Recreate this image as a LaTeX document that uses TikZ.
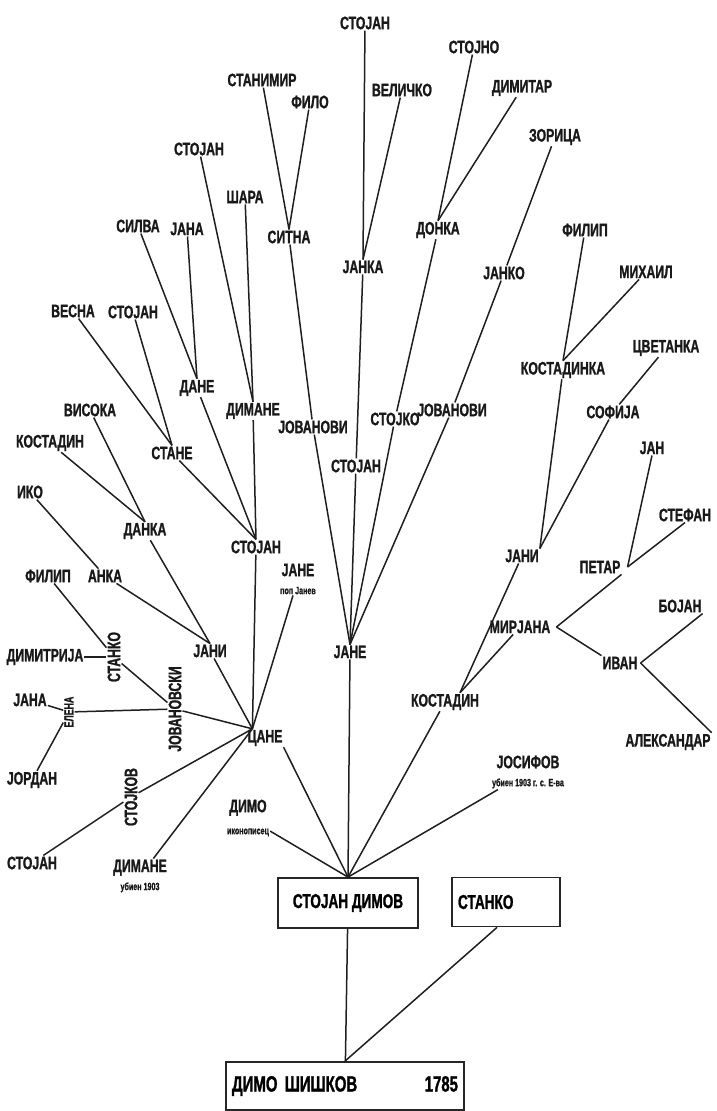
\documentclass[tikz,border=0pt]{standalone}
\usepackage{fontspec}
\newfontfamily\cf[FakeStretch=0.68,FakeBold=1.2]{Liberation Sans}
\newcommand{\subf}{\cf\bfseries\fontsize{10.5}{11}\selectfont}
\tikzset{
  lbl/.style={font=\cf\bfseries\fontsize{18}{18}\selectfont, inner sep=1pt, text=black!90},
  lblsm/.style={font=\cf\bfseries\fontsize{13}{13}\selectfont, inner sep=1pt, text=black!90},
  ln/.style={line width=1.5pt, black!88},
  box/.style={draw=black!85, line width=1.8pt, font=\cf\bfseries\fontsize{20}{20}\selectfont, inner sep=6pt}
}
\begin{document}
\begin{tikzpicture}[x=1pt,y=-1pt]
\fill[white] (0,0) rectangle (716,1111);
\useasboundingbox (0,0) rectangle (716,1111);

% ---- top centre
\node[lbl] (t1) at (365,23) {СТОЈАН};
\node[lbl] (t2) at (402,90) {ВЕЛИЧКО};
\node[lbl] (t3) at (474,47) {СТОЈНО};
\node[lbl] (t4) at (522,88) {ДИМИТАР};
\node[lbl] (t5) at (555,137) {ЗОРИЦА};
\node[lbl] (t6) at (262,80) {СТАНИМИР};
\node[lbl] (t7) at (310,102) {ФИЛО};
\node[lbl] (janka) at (363,267) {ЈАНКА};
\node[lbl] (donka) at (438,230) {ДОНКА};
\node[lbl] (janko) at (504,273) {ЈАНКО};
\node[lbl] (sitna) at (289,237) {СИТНА};

% ---- upper left
\node[lbl] (l1) at (199,149) {СТОЈАН};
\node[lbl] (l2) at (245,197) {ШАРА};
\node[lbl] (l3) at (138,226) {СИЛВА};
\node[lbl] (l4) at (187,229) {ЈАНА};
\node[lbl] (l5) at (73,311) {ВЕСНА};
\node[lbl] (l6) at (133,312) {СТОЈАН};
\node[lbl] (l7) at (90,410) {ВИСОКА};
\node[lbl] (l8) at (50,443) {КОСТАДИН};
\node[lbl] (l9) at (30,492) {ИКО};
\node[lbl] (dane) at (197,388) {ДАНЕ};
\node[lbl] (dimane) at (253,411) {ДИМАНЕ};
\node[lbl] (stane) at (172,453) {СТАНЕ};
\node[lbl] (danka) at (145,531) {ДАНКА};
\node[lbl] (stojanA) at (256,547) {СТОЈАН};
\node[lbl, align=center] (janeA) at (298,579) {ЈАНЕ\\{\subf поп Јанев}};

% ---- lower left
\node[lbl] (l10) at (48,576) {ФИЛИП};
\node[lbl] (l11) at (105,576) {АНКА};
\node[lbl] (jani) at (210,651) {ЈАНИ};
\node[lbl, rotate=90] (dime) at (114,657) {СТАНКО};
\node[lbl] (l12) at (45,657) {ДИМИТРИЈА};
\node[lblsm, rotate=90] (ela) at (69,712) {ЕЛЕНА};
\node[lbl] (l13) at (30,700) {ЈАНА};
\node[lbl] (l14) at (32,780) {ЈОРДАН};
\node[lbl, rotate=90] (jov) at (175,709) {ЈОВАНОВСКИ};
\node[lbl, rotate=90] (stojko) at (131,797) {СТОЈКОВ};
\node[lbl] (l15) at (32,863) {СТОЈАН};
\node[lbl] (cane) at (265,738) {ЦАНЕ};
\coordinate (caneIn) at ([xshift=6pt]cane.north west);
\node[lbl, align=center] (l16) at (140,876) {ДИМАНЕ\\{\subf убиен 1903}};
\node[lbl, align=center] (l17) at (248,818) {ДИМО\\[4pt]{\subf иконописец}};

% ---- centre
\node[lbl] (jov1) at (313,427) {ЈОВАНОВИ};
\node[lbl] (stB) at (356,466) {СТОЈАН};
\node[lbl] (stk) at (395,419) {СТОЈКО};
\node[lbl] (jov2) at (452,410) {ЈОВАНОВИ};
\node[lbl] (jane) at (350,652) {ЈАНЕ};

% ---- right
\node[lbl] (r1) at (585,230) {ФИЛИП};
\node[lbl] (r2) at (646,272) {МИХАИЛ};
\node[lbl] (kostadinka) at (563,370) {КОСТАДИНКА};
\node[lbl] (r3) at (666,348) {ЦВЕТАНКА};
\node[lbl] (sofija) at (613,412) {СОФИЈА};
\node[lbl] (jani2) at (522,556) {ЈАНИ};
\node[lbl] (r4) at (652,448) {ЈАН};
\node[lbl] (r5) at (685,515) {СТЕФАН};
\node[lbl] (petar) at (600,567) {ПЕТАР};
\node[lbl] (mirjana) at (520,627) {МИРЈАНА};
\node[lbl] (r6) at (680,606) {БОЈАН};
\node[lbl] (ivan) at (620,663) {ИВАН};
\node[lbl] (r7) at (668,742) {АЛЕКСАНДАР};
\node[lbl] (kost) at (445,702) {КОСТАДИН};
\node[lbl, align=center] (r8) at (528,772) {ЈОСИФОВ\\{\subf убиен 1903 г. с. Е-ва}};
\coordinate (mirE) at ([xshift=5pt]mirjana.east);
\coordinate (petE) at ([xshift=6pt]petar.east);
\coordinate (ivE) at ([xshift=2pt]ivan.east);
\coordinate (jani2In) at (jani2.north east);
\coordinate (kostIn) at ([xshift=15pt]kost.north);

% ---- boxes
\node[box, minimum width=140, minimum height=50] (b1) at (348,903) {СТОЈАН ДИМОВ};
\node[box, text width=96pt, minimum height=49, align=left] (b2) at (506,902) {СТАНКО};
\node[box, text width=226pt, minimum height=48, align=left, font=\cf\bfseries\fontsize{22}{22}\selectfont] (b3) at (345,1086) {ДИМО ШИШКОВ\hfill 1785};
\coordinate (b2Out) at ([xshift=-9pt]b2.south);

% ---- connectors: centre
\draw[ln] (t1) -- (janka.north);
\draw[ln] (t2) -- (janka.north);
\draw[ln] (janka) -- (stB);
\draw[ln] (stB) -- (jane.north);
\draw[ln] (t3) -- (donka.north);
\draw[ln] (t4) -- (donka.north);
\draw[ln] (donka) -- (stk);
\draw[ln] (stk) -- (jane.north);
\draw[ln] (t5) -- (janko);
\draw[ln] (janko) -- (jov2);
\draw[ln] (jov2) -- (jane.north);
\draw[ln] (t6) -- (sitna.north);
\draw[ln] (t7) -- (sitna.north);
\draw[ln] (sitna) -- (jov1);
\draw[ln] (jov1) -- (jane.north);
\draw[ln] (jane) -- (b1.north);

% ---- connectors: left
\draw[ln] (l1) -- (dimane.north);
\draw[ln] (l2) -- (dimane.north);
\draw[ln] (l3) -- (dane.north);
\draw[ln] (l4) -- (dane.north);
\draw[ln] (l5) -- (stane.north);
\draw[ln] (l6) -- (stane.north);
\draw[ln] (dane) -- (stojanA.north);
\draw[ln] (dimane) -- (stojanA.north);
\draw[ln] (stane) -- (stojanA.north);
\draw[ln] (l7) -- (danka.north);
\draw[ln] (l8) -- (danka.north);
\draw[ln] (danka) -- (jani.north);
\draw[ln] (l11) -- (jani.north);
\draw[ln] (l9) -- (l11);
\draw[ln] (l10) -- (dime);
\draw[ln] (l12) -- (dime);
\draw[ln] (dime) -- (jov);
\draw[ln] (l13) -- (ela);
\draw[ln] (l14) -- (ela);
\draw[ln] (ela) -- (jov);
\draw[ln] (l15) -- (stojko);
\draw[ln] (stojanA) -- (caneIn);
\draw[ln] (janeA) -- (caneIn);
\draw[ln] (jani) -- (caneIn);
\draw[ln] (jov) -- (caneIn);
\draw[ln] (stojko) -- (caneIn);
\draw[ln] (l16) -- (caneIn);
\draw[ln] (cane.south east) -- (b1.north);
\draw[ln] (l17) -- (b1.north);

% ---- connectors: right
\draw[ln] (r1) -- (kostadinka.north);
\draw[ln] (r2) -- (kostadinka.north);
\draw[ln] (r3) -- (sofija);
\draw[ln] (kostadinka) -- (jani2In);
\draw[ln] (sofija) -- (jani2In);
\draw[ln] (jani2) -- (kostIn);
\draw[ln] (mirjana) -- (kostIn);
\draw[ln] (kost) -- (b1.north);
\draw[ln] (mirE) -- (petar.south east);
\draw[ln] (mirE) -- (ivan.north west);
\draw[ln] (petE) -- (r4.south);
\draw[ln] (petE) -- (r5.south);
\draw[ln] (ivE) -- (r6.south east);
\draw[ln] (ivE) -- (r7.north east);
\draw[ln] (r8) -- (b1.north);

% ---- bottom
\draw[ln] (b1) -- (b3);
\draw[ln] (b2Out) -- (b3.north);
\end{tikzpicture}
\end{document}
